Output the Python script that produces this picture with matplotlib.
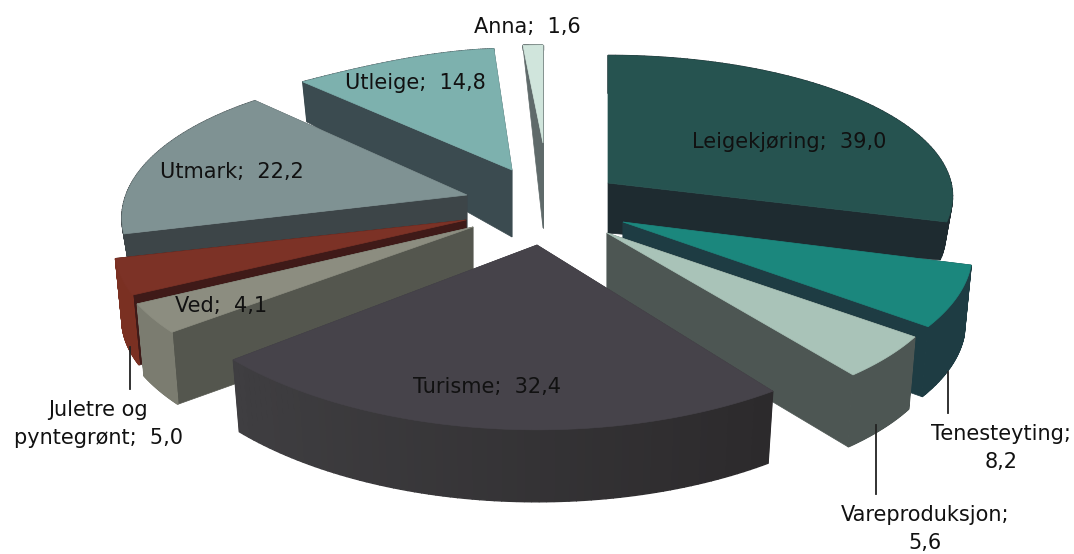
import numpy as np
from matplotlib import pyplot as plt
from matplotlib.colors import to_rgb

categories = ['Leigekjøring', 'Tenesteyting', 'Vareproduksjon', 'Turisme', 'Ved',
              'Juletre og\npyntegrønt', 'Utmark', 'Utleige', 'Anna']
values = [39.0, 8.2, 5.6, 32.4, 4.1, 5.0, 22.2, 14.8, 1.6]

top_colors = ['#265350', '#1b877d', '#a9c3b8', '#46434a', '#8c8d80', '#7c3226', '#7f9293', '#7db1ae', '#d0e5dc']
face_colors = ['#1e2b30', '#1e3c43', '#4d5653', '#3c3a3e', '#54564e', '#3f1a18', '#3d4548', '#3b4b50', '#5f6a6a']
rim_colors = [('#1e2b30', '#1e2b30'), ('#1e3c43', '#1e3c43'), ('#4d5653', '#4d5653'),
              ('#3f3e41', '#2c2a2c'), ('#7b7c70', '#7b7c70'), ('#7a3022', '#7a3022'),
              ('#3d4548', '#3d4548'), ('#3b4b50', '#3b4b50'), ('#5f6a6a', '#5f6a6a')]

# one view per slice: apex x, apex y, rx, ry, px, py, depth at apex, depth at rim
views = [(608, 183, 343, 141, .095, .095, 50, 38),
         (623, 222, 342, 151, .212, .212, 70, 70),
         (607, 233, 327, 142, .314, .314, 70, 72),
         (537, 245, 392, 176, 0, .05, 72, 72),
         (473, 227, 357, 153, .14, .14, 72, 72),
         (466, 220, 344, 145, .21, .21, 70, 70),
         (467, 195, 341, 149, .158, .158, 40, 40),
         (512, 170, 448, 128, .466, .05, 67, 40),
         (543, 143, 265, 98, 0, 0, 85, 5)]
draw_order = [8, 7, 0, 6, 5, 4, 1, 2, 3]
lean = 0.02

label_pos = [(789, 142), (1001, 448), (925, 529), (487, 387), (221, 306),
             (98, 424), (232, 172), (415, 83), (527, 27)]
label_sep = ['  ', '\n', '\n', '  ', '  ', '  ', '  ', '  ', '  ']
leaders = [(130, 347, 389), (948, 372, 413), (876, 425, 494)]


def rim_xy(view, t):
    ax0, ay0, rx, ry, px, py = view[:6]
    s, c = np.sin(t), -np.cos(t)
    return ax0 + rx * s * (1 + px * c), ay0 + ry * c * (1 + py * c)


fig = plt.figure(figsize=(10.74, 5.54), dpi=100)
ax = fig.add_axes([0, 0, 1, 1])
ax.set_xlim(0, 1074)
ax.set_ylim(554, 0)
ax.axis('off')

edges = np.cumsum([0] + values) / sum(values) * 2 * np.pi

for n, i in enumerate(draw_order):
    v = views[i]
    t = np.linspace(edges[i], edges[i + 1], 80)
    x, y = rim_xy(v, t)
    bx, by = v[0] + (x - v[0]) * (1 - lean), y + v[7]

    # flat cut faces go first, the rim covers them where they face away
    for j in [0, -1]:
        ax.fill([v[0], x[j], bx[j], v[0]], [v[1], y[j], by[j], v[1] + v[6]],
                color=face_colors[i], lw=0.5, zorder=1 + n)

    # outer wall in strips so the colour can run from left to right
    c0, c1 = np.array(to_rgb(rim_colors[i][0])), np.array(to_rgb(rim_colors[i][1]))
    for k in range(len(t) - 1):
        f = np.clip((x[k] - 233) / 540, 0, 1)
        ax.fill([x[k], x[k + 1], bx[k + 1], bx[k]], [y[k], y[k + 1], by[k + 1], by[k]],
                color=c0 + (c1 - c0) * f, lw=1.0, zorder=1 + n)

    ax.fill(np.r_[v[0], x], np.r_[v[1], y], color=top_colors[i], lw=0.5, zorder=1 + n)

for lx, y0, y1 in leaders:
    ax.plot([lx, lx], [y0, y1], color='#222222', lw=1.3, zorder=20)

for name, val, pos, sep in zip(categories, values, label_pos, label_sep):
    txt = name + ';' + sep + ('%.1f' % val).replace('.', ',')
    ax.text(pos[0], pos[1], txt, ha='center', va='center', fontsize=15, family='DejaVu Sans',
            color='#111111', linespacing=1.55, zorder=30)

plt.savefig('out.png', dpi=100)
